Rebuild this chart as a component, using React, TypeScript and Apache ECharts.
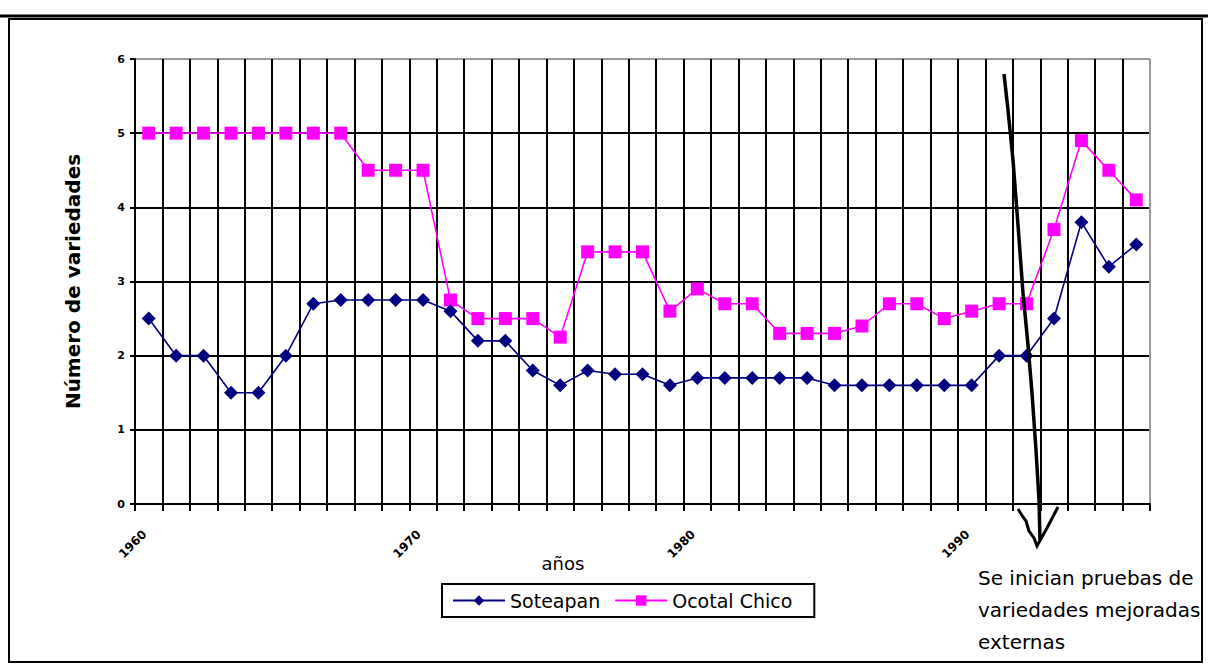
import React, { useEffect, useRef } from "react";
import * as echarts from "echarts";

const years = [
  "1960", "1961", "1962", "1963", "1964", "1965", "1966", "1967", "1968", "1969",
  "1970", "1971", "1972", "1973", "1974", "1975", "1976", "1977", "1978", "1979",
  "1980", "1981", "1982", "1983", "1984", "1985", "1986", "1987", "1988", "1989",
  "1990", "1991", "1992", "1993", "1994", "1995", "1996",
];
const soteapan = [
  2.5, 2.0, 2.0, 1.5, 1.5, 2.0, 2.7, 2.75, 2.75, 2.75,
  2.75, 2.6, 2.2, 2.2, 1.8, 1.6, 1.8, 1.75, 1.75, 1.6,
  1.7, 1.7, 1.7, 1.7, 1.7, 1.6, 1.6, 1.6, 1.6, 1.6,
  1.6, 2.0, 2.0, 2.5, 3.8, 3.2, 3.5,
];
const ocotalChico = [
  5, 5, 5, 5, 5, 5, 5, 5, 4.5, 4.5,
  4.5, 2.75, 2.5, 2.5, 2.5, 2.25, 3.4, 3.4, 3.4, 2.6,
  2.9, 2.7, 2.7, 2.3, 2.3, 2.3, 2.4, 2.7, 2.7, 2.5,
  2.6, 2.7, 2.7, 3.7, 4.9, 4.5, 4.1,
];
const seriesNames = ["Soteapan", "Ocotal Chico"];
const yTitle = "Número de variedades";
const xTitle = "años";
const note = "Se inician pruebas de\nvariedades mejoradas\nexternas";

const FONT = "'DejaVu Sans', Arial, sans-serif";

export default function App() {
  const ref = useRef<HTMLDivElement>(null);
  useEffect(() => {
    if (!ref.current) return;
    const chart = echarts.init(ref.current, null, { renderer: "svg" });
    const xSplitColors = years.map(() => "#000").concat(["#999"]);
    const ySplitColors = ["#000", "#000", "#000", "#000", "#000", "#000", "#999"];
    chart.setOption({
      animation: false,
      backgroundColor: "#fff",
      grid: { left: 135, right: 58, top: 59, bottom: 162, containLabel: false },
      legend: {
        left: 442,
        top: 584,
        itemWidth: 52,
        itemHeight: 13,
        itemGap: 14,
        padding: [7, 22, 7, 10],
        borderColor: "#000",
        borderWidth: 2,
        textStyle: { fontFamily: FONT, fontSize: 19, color: "#000" },
        data: seriesNames,
      },
      xAxis: {
        type: "category",
        data: years,
        boundaryGap: true,
        axisLine: { show: true, lineStyle: { color: "#000", width: 2 } },
        axisTick: { show: true, interval: 0, length: 7, lineStyle: { color: "#000", width: 2 } },
        axisLabel: {
          interval: 9,
          rotate: 45,
          margin: 24,
          padding: [0, 6, 0, 0],
          fontFamily: FONT,
          fontSize: 12,
          fontWeight: "bold",
          color: "#000",
        },
        splitLine: { show: true, interval: 0, lineStyle: { color: xSplitColors, width: 2 } },
      },
      yAxis: {
        type: "value",
        min: 0,
        max: 6,
        interval: 1,
        name: yTitle,
        nameLocation: "middle",
        nameGap: 52,
        nameTextStyle: { fontFamily: FONT, fontSize: 20, fontWeight: "bold", color: "#000" },
        axisLine: { show: true, lineStyle: { color: "#000", width: 2 } },
        axisTick: { show: true, length: 5, lineStyle: { color: "#000", width: 2 } },
        axisLabel: { margin: 10, fontFamily: FONT, fontSize: 11, fontWeight: "bold", color: "#000" },
        splitLine: { show: true, lineStyle: { color: ySplitColors, width: 2 } },
      },
      series: [
        {
          name: seriesNames[0],
          type: "line",
          data: soteapan,
          symbol: "diamond",
          symbolSize: 14,
          itemStyle: { color: "#000080" },
          lineStyle: { color: "#000080", width: 1.6 },
          z: 3,
        },
        {
          name: seriesNames[1],
          type: "line",
          data: ocotalChico,
          symbol: "rect",
          symbolSize: 13,
          itemStyle: { color: "#FF00FF" },
          lineStyle: { color: "#FF00FF", width: 1.6 },
          z: 2,
        },
      ],
      graphic: [
        {
          type: "line",
          shape: { x1: 0, y1: 16, x2: 1208, y2: 16 },
          style: { stroke: "#000", lineWidth: 3 },
          z: 50,
        },
        {
          type: "rect",
          shape: { x: 9, y: 19, width: 1193, height: 643 },
          style: { fill: "none", stroke: "#000", lineWidth: 2 },
          z: 50,
        },
        {
          type: "text",
          x: 563,
          y: 563,
          style: {
            text: xTitle,
            fontFamily: FONT,
            fontSize: 18,
            fill: "#000",
            textAlign: "center",
            textVerticalAlign: "middle",
          },
        },
        {
          type: "polyline",
          shape: {
            points: [
              [1004, 74], [1008, 110], [1013, 160], [1018, 225], [1023, 293],
              [1028, 345], [1032, 393], [1036, 450], [1039, 500], [1040, 540],
            ],
          },
          style: { stroke: "#000", lineWidth: 3.5, fill: "none" },
          z: 60,
        },
        {
          type: "polyline",
          shape: {
            points: [
              [1018, 509], [1023, 517], [1026, 521], [1029, 531], [1034, 538],
              [1037, 546], [1047, 528], [1058, 507],
            ],
          },
          style: { stroke: "#000", lineWidth: 3, fill: "none" },
          z: 60,
        },
        {
          type: "text",
          x: 978,
          y: 562,
          style: {
            text: note,
            fontFamily: FONT,
            fontSize: 20,
            lineHeight: 32,
            fill: "#000",
            textAlign: "left",
            textVerticalAlign: "top",
          },
        },
      ],
    });
    return () => chart.dispose();
  }, []);
  return (
    <div
      ref={ref}
      style={{ position: "fixed", left: 0, top: 0, width: 1208, height: 666, background: "#fff" }}
    />
  );
}
